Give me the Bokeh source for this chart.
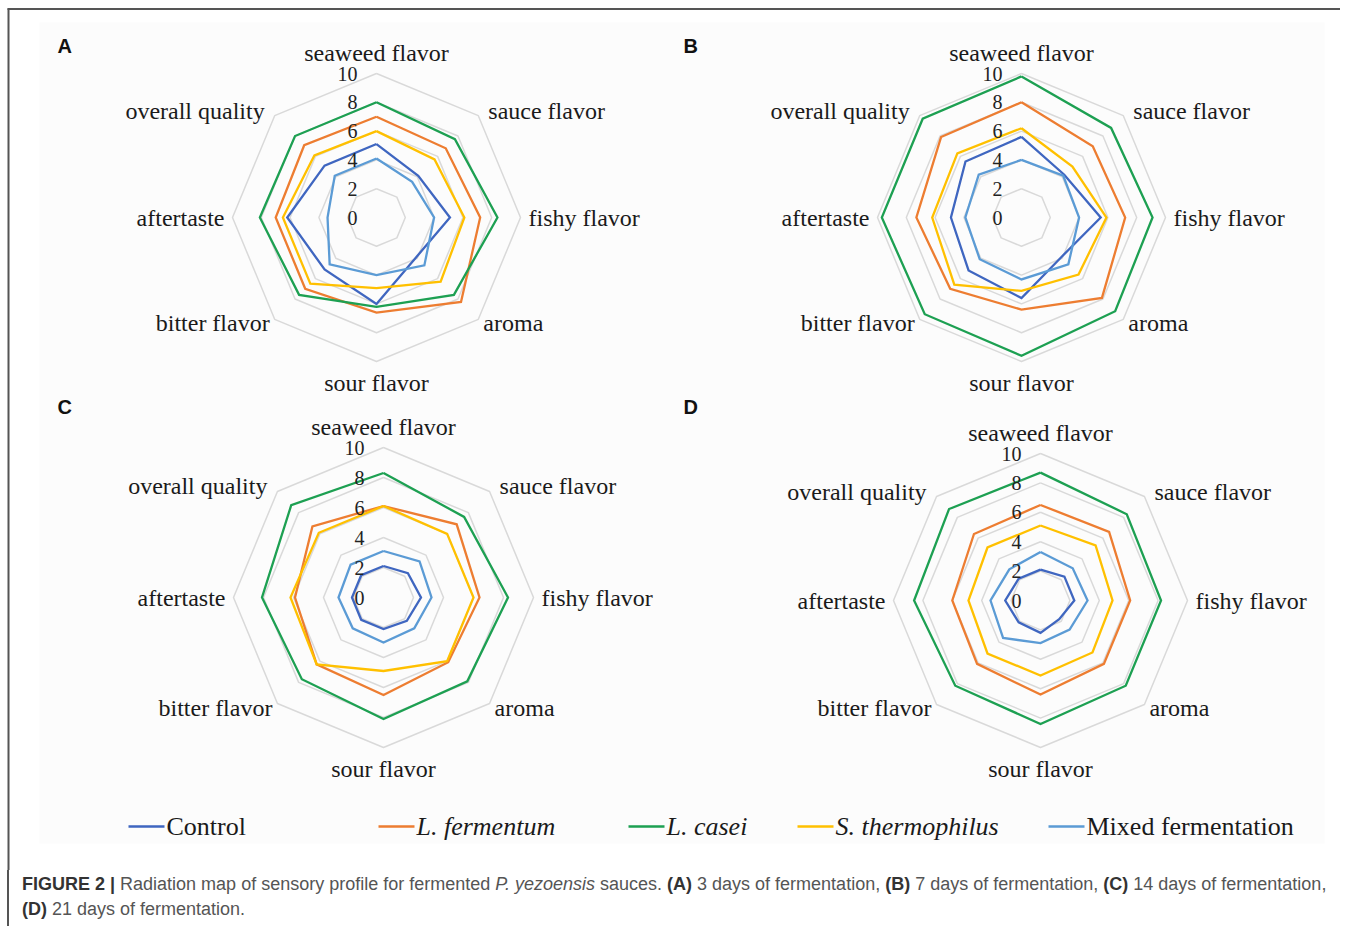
import numpy as np
from bokeh.plotting import figure
from bokeh.models import Range1d, ColumnDataSource, Div
from bokeh.layouts import column
from bokeh.embed import file_html
from bokeh.resources import INLINE
from bokeh.core.properties import value

# ---------------- data ----------------
attributes = ["seaweed flavor", "sauce flavor", "fishy flavor", "aroma",
              "sour flavor", "bitter flavor", "aftertaste", "overall quality"]
series_names = ["Control", "L. fermentum", "L. casei", "S. thermophilus", "Mixed fermentation"]
series_italic = [False, True, True, True, False]
tick_values = [0, 2, 4, 6, 8, 10]
tick_labels = ["0", "2", "4", "6", "8", "10"]
panel_letters = ["A", "B", "C", "D"]

# (A) 3 days
a_control = [5.1, 4.1, 5.1, 3.9, 6.0, 5.1, 6.2, 5.1]
a_fermentum = [7.0, 6.8, 7.2, 8.3, 6.6, 7.0, 7.0, 7.1]
a_casei = [8.0, 7.7, 8.4, 7.6, 6.2, 7.6, 8.1, 8.0]
a_thermophilus = [6.0, 5.7, 6.1, 6.3, 4.9, 6.5, 6.5, 6.1]
a_mixed = [4.1, 3.5, 4.0, 4.7, 4.0, 4.6, 3.4, 4.1]
# (B) 7 days
b_control = [5.6, 4.2, 5.5, 3.9, 5.6, 5.2, 4.9, 5.5]
b_fermentum = [8.0, 7.0, 7.2, 7.9, 6.4, 7.0, 7.3, 7.9]
b_casei = [9.8, 8.8, 9.1, 9.2, 9.6, 9.5, 9.7, 9.7]
b_thermophilus = [6.2, 5.0, 5.9, 5.6, 5.1, 6.6, 6.2, 6.3]
b_mixed = [4.0, 4.1, 4.0, 4.6, 4.3, 4.1, 3.9, 4.2]
# (C) 14 days
c_control = [2.1, 2.3, 2.5, 2.2, 2.1, 2.1, 2.1, 2.1]
c_fermentum = [6.1, 6.9, 6.4, 6.1, 6.5, 6.3, 5.9, 6.7]
c_casei = [8.3, 7.6, 8.3, 7.9, 8.1, 7.7, 8.1, 8.7]
c_thermophilus = [6.1, 6.0, 6.0, 6.0, 4.9, 6.3, 6.2, 6.1]
c_mixed = [3.1, 3.4, 3.2, 2.9, 3.0, 2.9, 3.0, 3.1]
# (D) 21 days
d_control = [2.1, 2.3, 2.3, 1.8, 2.2, 2.1, 2.4, 2.1]
d_fermentum = [6.5, 6.6, 6.1, 6.1, 6.4, 6.1, 6.0, 6.4]
d_casei = [8.7, 8.3, 8.2, 8.2, 8.4, 8.2, 8.6, 8.8]
d_thermophilus = [5.1, 5.3, 4.9, 5.0, 5.1, 5.1, 4.9, 5.1]
d_mixed = [3.3, 3.1, 3.2, 2.8, 2.9, 3.6, 3.4, 3.0]

panels_data = [
    [a_control, a_fermentum, a_casei, a_thermophilus, a_mixed],
    [b_control, b_fermentum, b_casei, b_thermophilus, b_mixed],
    [c_control, c_fermentum, c_casei, c_thermophilus, c_mixed],
    [d_control, d_fermentum, d_casei, d_thermophilus, d_mixed],
]

# ---------------- style / layout ----------------
colors = ["#3F66C0", "#ED7D31", "#1DA052", "#FFC000", "#5B9BD5"]
W, H = 1340, 870
VMAX = 10.0
# panel centre (x, y) and radius of the 10-level (px)
panel_geom = [(376, 217, 144), (1021, 217, 144), (383, 597, 150), (1040, 600, 147)]
letter_pos = [(57, 45), (683, 45), (57, 406), (683, 406)]

SERIF = value("Liberation Serif")
SANS = value("Liberation Sans")

p = figure(width=W, height=H, x_range=Range1d(0, W), y_range=Range1d(H, 0),
           output_backend="svg", toolbar_location=None, min_border=0,
           x_axis_location=None, y_axis_location=None)
p.grid.visible = False
p.outline_line_color = None
p.background_fill_color = "white"
p.border_fill_color = "white"

# faint chart area background and frame lines
p.quad(left=[39], right=[1324], top=[22], bottom=[843], fill_color="#FCFCFC", line_color=None)
p.line(x=[7, W], y=[8.5, 8.5], line_color="#555555", line_width=2)
p.line(x=[8, 8], y=[8, H], line_color="#555555", line_width=2)

n = len(attributes)
theta = np.arange(n) * 2 * np.pi / n
sx, sy = np.sin(theta), -np.cos(theta)

for pi, (cx, cy, R) in enumerate(panel_geom):
    # grid octagons
    for tv in tick_values[1:]:
        r = tv / VMAX * R
        xs = list(cx + r * sx) + [cx + r * sx[0]]
        ys = list(cy + r * sy) + [cy + r * sy[0]]
        p.line(xs, ys, line_color="#D9D9D9", line_width=1.5)
    # series
    for si, vals in enumerate(panels_data[pi]):
        v = np.array(vals)
        r = v / VMAX * R
        xs = list(cx + r * sx) + [cx + r[0] * sx[0]]
        ys = list(cy + r * sy) + [cy + r[0] * sy[0]]
        p.line(xs, ys, line_color=colors[si], line_width=2.3, line_join="miter")
    # tick labels
    tsrc = ColumnDataSource(dict(x=[cx - 19] * len(tick_values),
                                 y=[cy - tv / VMAX * R for tv in tick_values],
                                 t=tick_labels))
    p.text("x", "y", "t", source=tsrc, text_font=SERIF, text_font_size="20px",
           text_align="right", text_baseline="middle", text_color="#222222")
    # attribute labels
    d = 0.7071 * R
    lx = [cx, cx + d + 10, cx + R + 8, cx + d + 5, cx, cx - d - 5, cx - R - 8, cx - d - 10]
    ly = [cy - R - 8, cy - d - 5, cy, cy + d + 4, cy + R + 8, cy + d + 4, cy, cy - d - 5]
    al = ["center", "left", "left", "left", "center", "right", "right", "right"]
    bl = ["bottom", "middle", "middle", "middle", "top", "middle", "middle", "middle"]
    for k in range(n):
        p.text(x=[lx[k]], y=[ly[k]], text=[attributes[k]], text_font=SERIF,
               text_font_size="24px", text_align=al[k], text_baseline=bl[k],
               text_color="#1a1a1a")
    # panel letter
    p.text(x=[letter_pos[pi][0]], y=[letter_pos[pi][1]], text=[panel_letters[pi]],
           text_font=SANS, text_font_size="20px", text_font_style="bold",
           text_align="left", text_baseline="middle", text_color="#111111")

# legend
leg_y = 826
leg_x0 = [128, 378, 628, 797, 1048]
for si, name in enumerate(series_names):
    x0 = leg_x0[si]
    p.line(x=[x0, x0 + 36], y=[leg_y, leg_y], line_color=colors[si], line_width=2.5)
    p.text(x=[x0 + 38], y=[leg_y], text=[name], text_font=SERIF, text_font_size="26px",
           text_font_style="italic" if series_italic[si] else "normal",
           text_align="left", text_baseline="middle", text_color="#1a1a1a")

caption_html = ('<div style="border-left:2px solid #555555; padding-left:13px; padding-top:2px; '
                'height:56px; box-sizing:border-box; font-family:\'Liberation Sans\', Arial, sans-serif; '
                'font-size:18px; line-height:25px; color:#555555; white-space:nowrap;">'
                '<b style="color:#333">FIGURE 2 |</b> Radiation map of sensory profile for fermented '
                '<i>P. yezoensis</i> sauces. <b style="color:#333">(A)</b> 3 days of fermentation, '
                '<b style="color:#333">(B)</b> 7 days of fermentation, '
                '<b style="color:#333">(C)</b> 14 days of fermentation,<br>'
                '<b style="color:#333">(D)</b> 21 days of fermentation.</div>')
cap = Div(text=caption_html, width=W - 7, height=56, margin=(0, 0, 0, 7))

layout = column(p, cap, spacing=0)
open("out.html", "w").write(file_html(layout, INLINE))
